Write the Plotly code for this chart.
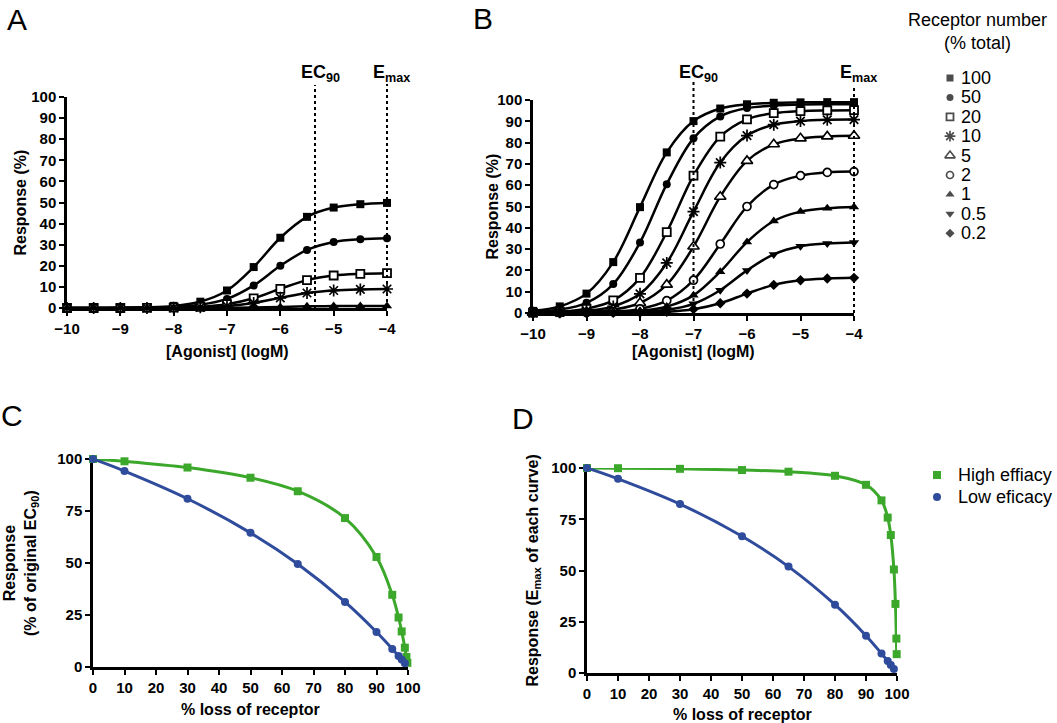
import plotly.graph_objects as go

W, H = 1057, 723
OFF = 0  # body margin is removed by the post script below

# ---------------- data ----------------
X_LOG = [-10, -9.5, -9, -8.5, -8, -7.5, -7, -6.5, -6, -5.5, -5, -4.5, -4]

# Panel B: high-efficacy agonist, receptor number (% total)
RECEPTOR_LABELS = ["100", "50", "20", "10", "5", "2", "1", "0.5", "0.2"]
B_100 = [1.0, 3.1, 9.1, 23.9, 49.7, 75.4, 90.1, 96.0, 98.0, 98.7, 98.9, 99.0, 99.0]
B_50 = [0.5, 1.6, 4.8, 13.6, 33.1, 60.5, 82.0, 92.3, 96.2, 97.4, 97.9, 98.0, 98.0]
B_20 = [0.2, 0.6, 2.0, 5.9, 16.5, 38.0, 64.5, 82.8, 90.9, 93.8, 94.8, 95.1, 95.2]
B_10 = [0.1, 0.3, 1.0, 3.1, 9.0, 23.5, 47.6, 70.6, 83.3, 88.4, 90.1, 90.7, 90.8]
B_5 = [0.1, 0.2, 0.5, 1.6, 4.7, 13.3, 31.2, 54.6, 71.4, 79.2, 82.0, 82.9, 83.2]
B_2 = [0.0, 0.1, 0.2, 0.6, 1.9, 5.8, 15.4, 32.4, 50.0, 60.3, 64.5, 66.0, 66.4]
B_1 = [0.0, 0.0, 0.1, 0.3, 1.0, 3.0, 8.3, 19.4, 33.3, 43.2, 47.6, 49.2, 49.8]
B_05 = [0.0, 0.0, 0.1, 0.2, 0.5, 1.5, 4.3, 10.7, 20.0, 27.5, 31.3, 32.6, 33.1]
B_02 = [0.0, 0.0, 0.0, 0.1, 0.2, 0.6, 1.8, 4.6, 9.1, 13.2, 15.4, 16.2, 16.5]

# Panel A: low-efficacy agonist
A_LABELS = ["100", "50", "20", "10", "1"]
A_100 = [0.0, 0.0, 0.1, 0.3, 1.0, 3.0, 8.3, 19.4, 33.3, 43.2, 47.6, 49.2, 49.8]
A_50 = [0.0, 0.0, 0.1, 0.2, 0.5, 1.5, 4.3, 10.7, 20.0, 27.5, 31.3, 32.6, 33.1]
A_20 = [0.0, 0.0, 0.0, 0.1, 0.2, 0.6, 1.8, 4.6, 9.1, 13.2, 15.4, 16.2, 16.5]
A_10 = [0.0, 0.0, 0.0, 0.0, 0.1, 0.3, 0.9, 2.4, 4.8, 7.1, 8.3, 8.8, 9.0]
A_1 = [0.0, 0.0, 0.0, 0.0, 0.0, 0.0, 0.1, 0.2, 0.5, 0.8, 0.9, 1.0, 1.0]

EC90_A = -5.35
EC90_B = -7.0
EMAX_X = -4.0

# Panel C: response at original EC90
C_LOSS_HIGH = [0, 10, 30, 50, 65, 80, 90, 95, 97, 98, 99, 99.5, 99.8]
C_RESP_HIGH = [100, 98.9, 95.9, 91.0, 84.5, 71.6, 52.9, 34.7, 23.8, 17.1, 9.3, 4.8, 2.0]
C_LOSS_LOW = [0, 10, 30, 50, 65, 80, 90, 95, 97, 98, 99]
C_RESP_LOW = [100, 94.2, 80.9, 64.5, 49.5, 31.3, 16.8, 8.7, 5.3, 3.6, 1.8]

# Panel D: Emax of each curve
D_LOSS_HIGH = [0, 10, 30, 50, 65, 80, 90, 95, 97, 98, 99, 99.5, 99.8, 99.9]
D_RESP_HIGH = [100, 99.9, 99.6, 99.0, 98.2, 96.2, 91.8, 84.2, 75.8, 67.3, 50.5, 33.7, 16.8, 9.2]
D_LOSS_LOW = [0, 10, 30, 50, 65, 80, 90, 95, 97, 98, 99]
D_RESP_LOW = [100, 94.7, 82.4, 66.7, 51.9, 33.3, 18.2, 9.5, 5.8, 3.9, 2.0]

EFFICACY_LABELS = ["High effiacy", "Low eficacy"]

B_SERIES = dict(zip(RECEPTOR_LABELS, [B_100, B_50, B_20, B_10, B_5, B_2, B_1, B_05, B_02]))
A_SERIES = dict(zip(A_LABELS, [A_100, A_50, A_20, A_10, A_1]))

# ---------------- styles ----------------
FONT = "Liberation Sans"
GREEN = "#3ca82b"
BLUE = "#2f4b9b"

MARKERS = {
    "100": dict(symbol="square", size=8, color="black"),
    "50": dict(symbol="circle", size=8, color="black"),
    "20": dict(symbol="square", size=8, color="white", line=dict(color="black", width=1.8)),
    "10": dict(symbol="asterisk-open", size=10, line=dict(color="black", width=1.7)),
    "5": dict(symbol="triangle-up", size=10, color="white", line=dict(color="black", width=1.6)),
    "2": dict(symbol="circle", size=8, color="white", line=dict(color="black", width=1.7)),
    "1": dict(symbol="triangle-up", size=9, color="black"),
    "0.5": dict(symbol="triangle-down", size=9, color="black"),
    "0.2": dict(symbol="diamond", size=8, color="black"),
}

# screen-pixel boxes of the four plot areas
A_X, A_Y = (67, 387), (97, 308)
B_X, B_Y = (533, 854), (100, 313)
C_X, C_Y = (93, 408), (459, 667)
D_X, D_Y = (587, 897), (468, 673)


def px(p):
    return (p - OFF) / W


def py(p):
    return 1 - (p - OFF) / H


def dx(p):
    return [px(p[0]), px(p[1])]


def dy(p):
    return [py(p[1]), py(p[0])]


def data_to_paper_x(v, box, rng):
    return px(box[0] + (v - rng[0]) / (rng[1] - rng[0]) * (box[1] - box[0]))


fig = go.Figure()

for lab in A_LABELS:
    fig.add_trace(go.Scatter(
        x=X_LOG, y=A_SERIES[lab], mode="lines+markers", xaxis="x", yaxis="y",
        line=dict(color="black", width=2.5, shape="spline"), marker=MARKERS[lab],
        cliponaxis=False, showlegend=False))

for lab in RECEPTOR_LABELS:
    fig.add_trace(go.Scatter(
        x=X_LOG, y=B_SERIES[lab], mode="lines+markers", xaxis="x2", yaxis="y2",
        line=dict(color="black", width=2.5, shape="spline"), marker=MARKERS[lab],
        cliponaxis=False, showlegend=False))

for xs, ys, col, sym, ax in [
    (C_LOSS_HIGH, C_RESP_HIGH, GREEN, "square", ("x3", "y3")),
    (C_LOSS_LOW, C_RESP_LOW, BLUE, "circle", ("x3", "y3")),
    (D_LOSS_HIGH, D_RESP_HIGH, GREEN, "square", ("x4", "y4")),
    (D_LOSS_LOW, D_RESP_LOW, BLUE, "circle", ("x4", "y4")),
]:
    fig.add_trace(go.Scatter(
        x=xs, y=ys, mode="lines+markers", xaxis=ax[0], yaxis=ax[1],
        line=dict(color=col, width=3, shape="spline"),
        marker=dict(symbol=sym, size=8, color=col),
        cliponaxis=False, showlegend=False))

# legend keys (receptor number) on a hidden axis
fig.add_trace(go.Scatter(
    x=[0] * len(RECEPTOR_LABELS), y=list(range(len(RECEPTOR_LABELS))),
    mode="markers", xaxis="x5", yaxis="y5",
    marker=dict(
        symbol=[MARKERS[l]["symbol"] for l in RECEPTOR_LABELS],
        size=[MARKERS[l]["size"] - 1 for l in RECEPTOR_LABELS],
        color=[MARKERS[l].get("color", "black") for l in RECEPTOR_LABELS],
        line=dict(color="black", width=[MARKERS[l].get("line", {}).get("width", 0) for l in RECEPTOR_LABELS]),
    ),
    cliponaxis=False, showlegend=False, hoverinfo="skip"))

fig.add_trace(go.Scatter(
    x=[0, 0], y=[0, 1], mode="markers", xaxis="x6", yaxis="y6",
    marker=dict(symbol=["square", "circle"], size=8, color=[GREEN, BLUE]),
    cliponaxis=False, showlegend=False, hoverinfo="skip"))

tickfont = dict(family=FONT, size=15, color="black", weight="bold")


def axis(domain, rng, anchor, **kw):
    d = dict(domain=domain, range=rng, anchor=anchor, showline=True, linecolor="black",
             linewidth=2.5, ticks="outside", ticklen=5, tickwidth=2, tickcolor="black",
             showgrid=False, zeroline=False, tickfont=tickfont, layer="below traces",
             fixedrange=True, automargin=False)
    d.update(kw)
    return d


def hidden_axis(domain, rng, anchor):
    return dict(domain=domain, range=rng, visible=False, anchor=anchor,
                fixedrange=True, automargin=False)


annotations = []


def ann(text, x, y, size=16, weight="bold", angle=0, xref="paper", yref="paper", **kw):
    d = dict(text=text, x=x, y=y, xref=xref, yref=yref, showarrow=False,
             textangle=angle, font=dict(family=FONT, size=size, color="black", weight=weight),
             xanchor="center", yanchor="middle")
    d.update(kw)
    annotations.append(d)


# panel letters
ann("A", px(17), py(19), size=30, weight="normal")
ann("B", px(483), py(18), size=30, weight="normal")
ann("C", px(12), py(416), size=30, weight="normal")
ann("D", px(523), py(418), size=30, weight="normal")

# axis titles
ann("Response (%)", px(20), py((A_Y[0] + A_Y[1]) / 2), angle=-90)
ann("Response (%)", px(492), py((B_Y[0] + B_Y[1]) / 2), angle=-90)
ann("[Agonist] (logM)", px((A_X[0] + A_X[1]) / 2), py(351))
ann("[Agonist] (logM)", px((B_X[0] + B_X[1]) / 2), py(351))
ann("Response<br>(% of original EC<sub>90</sub>)", px(21), py((C_Y[0] + C_Y[1]) / 2), angle=-90)
ann("% loss of receptor", px((C_X[0] + C_X[1]) / 2), py(709))
ann("Response (E<sub>max</sub> of each curve)", px(533), py((D_Y[0] + D_Y[1]) / 2), angle=-90)
ann("% loss of receptor", px((D_X[0] + D_X[1]) / 2), py(714))

# EC90 / Emax labels
ann("EC<sub>90</sub>", EC90_A, py(74), size=18, xref="x", xshift=5)
ann("E<sub>max</sub>", EMAX_X, py(74), size=18, xref="x", xshift=4)
ann("EC<sub>90</sub>", EC90_B, py(74), size=18, xref="x2", xshift=5)
ann("E<sub>max</sub>", EMAX_X, py(74), size=18, xref="x2", xshift=4)

# legend text
ann("Receptor number<br>(% total)", px(977), py(32), size=18, weight="normal")
for i, lab in enumerate(RECEPTOR_LABELS):
    ann(lab, 0, i, size=18, weight="normal", xref="x5", yref="y5", xanchor="left", xshift=9)
for i, lab in enumerate(EFFICACY_LABELS):
    ann(lab, 0, i, size=18, weight="normal", xref="x6", yref="y6", xanchor="left", xshift=19)

# dotted reference lines
shapes = []
for xv, box, ybox, top in [(EC90_A, A_X, A_Y, 85), (EMAX_X, A_X, A_Y, 84),
                           (EC90_B, B_X, B_Y, 82), (EMAX_X, B_X, B_Y, 88)]:
    xp = data_to_paper_x(xv, box, (-10, -4))
    shapes.append(dict(type="line", xref="paper", yref="paper", x0=xp, x1=xp,
                       y0=py(ybox[1]), y1=py(top), line=dict(color="black", width=2, dash="dot")))

XT = [-10, -9, -8, -7, -6, -5, -4]
PT = [0, 10, 20, 30, 40, 50, 60, 70, 80, 90, 100]

fig.update_layout(
    template="none",
    width=W, height=H, margin=dict(l=0, r=0, t=0, b=0, pad=0, autoexpand=False),
    paper_bgcolor="white", plot_bgcolor="white", showlegend=False,
    font=dict(family=FONT, color="black"),
    xaxis=axis(dx(A_X), [-10, -4], "y", tickvals=XT),
    yaxis=axis(dy(A_Y), [0, 100], "x", tickvals=PT),
    xaxis2=axis(dx(B_X), [-10, -4], "y2", tickvals=XT),
    yaxis2=axis(dy(B_Y), [0, 100], "x2", tickvals=PT),
    xaxis3=axis(dx(C_X), [0, 100], "y3", tickvals=PT),
    yaxis3=axis(dy(C_Y), [0, 100], "x3", tickvals=[0, 25, 50, 75, 100]),
    xaxis4=axis(dx(D_X), [0, 100], "y4", tickvals=PT),
    yaxis4=axis(dy(D_Y), [0, 100], "x4", tickvals=[0, 25, 50, 75, 100]),
    xaxis5=hidden_axis([px(950), 1.0], [0, 1], "y5"),
    yaxis5=hidden_axis(dy((68.3, 242.9)), [8.5, -0.5], "x5"),
    xaxis6=hidden_axis([px(937), 1.0], [0, 1], "y6"),
    yaxis6=hidden_axis(dy((464, 508)), [1.5, -0.5], "x6"),
    annotations=annotations,
    shapes=shapes,
)

fig.write_html(
    "out.html",
    config={"displayModeBar": False},
    post_script="document.body.style.margin='0px';document.body.style.overflow='hidden';",
)
